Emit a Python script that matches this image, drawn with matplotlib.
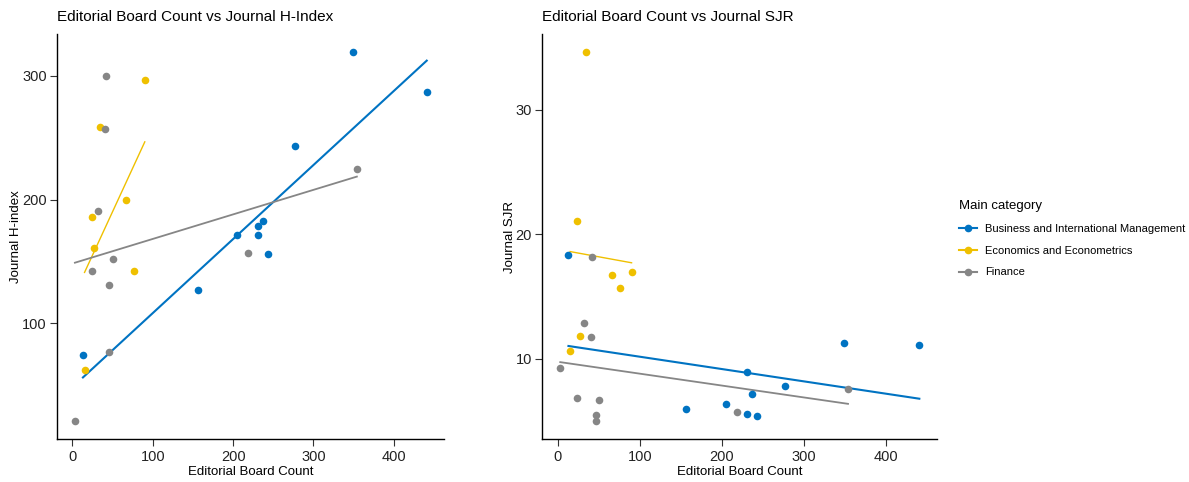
import numpy as np
import matplotlib
matplotlib.use("Agg")
import matplotlib.pyplot as plt
from matplotlib.lines import Line2D

plt.rcParams['font.family'] = ['Liberation Sans', 'DejaVu Sans']

# editorial board counts, H-index and SJR per journal, grouped by main category
bus_board = [349, 441, 277, 205, 231, 237, 231, 243, 156, 13]
bus_hindex = [319, 287, 243, 171, 179, 183, 171, 156, 127, 74]
bus_sjr = [11.23, 11.07, 7.83, 6.33, 8.96, 7.13, 5.56, 5.42, 5.98, 18.3]

eco_board = [90, 34, 66, 24, 27, 76, 15]
eco_hindex = [297, 259, 200, 186, 161, 142, 62]
eco_sjr = [16.96, 34.63, 16.75, 21.08, 11.82, 15.7, 10.59]

fin_board = [42, 40, 32, 50, 24, 46, 46, 219, 354, 3]
fin_hindex = [300, 257, 191, 152, 142, 131, 77, 157, 225, 21]
fin_sjr = [18.17, 11.74, 12.87, 6.63, 6.84, 5.5, 4.99, 5.72, 7.54, 9.25]

categories = ["Business and International Management", "Economics and Econometrics", "Finance"]
colors = ["#0073C2", "#EFC000", "#868686"]
line_w = [1.5, 1.0, 1.3]

groups = [
    (bus_board, bus_hindex, bus_sjr),
    (eco_board, eco_hindex, eco_sjr),
    (fin_board, fin_hindex, fin_sjr),
]

fig = plt.figure(figsize=(11.89, 4.82), dpi=100)
ax1 = fig.add_axes([0.0482, 0.0886, 0.3255, 0.8409])
ax2 = fig.add_axes([0.4561, 0.0886, 0.3322, 0.8409])


def expand(vals, frac=0.05):
    lo, hi = min(vals), max(vals)
    pad = (hi - lo) * frac
    return lo - pad, hi + pad


def panel(ax, idx, title, ylabel):
    allx, ally = [], []
    for (board, hidx, sjr), col, lw in zip(groups, colors, line_w):
        y = hidx if idx == 1 else sjr
        ax.scatter(board, y, s=30, color=col, zorder=3, linewidths=0)
        # linear fit per category over its own x range
        k, b = np.polyfit(board, y, 1)
        xs = np.array([min(board), max(board)])
        ax.plot(xs, k * xs + b, color=col, lw=lw, zorder=2)
        allx += board
        ally += y
    ax.set_xlim(*expand(allx))
    ax.set_ylim(*expand(ally))
    ax.set_xticks([0, 100, 200, 300, 400])
    for s in ["top", "right"]:
        ax.spines[s].set_visible(False)
    for s in ["left", "bottom"]:
        ax.spines[s].set_linewidth(1.0)
        ax.spines[s].set_color("black")
    ax.tick_params(direction="out", length=5, width=0.8, color="#333333",
                   labelsize=10.5, labelcolor="#222222", pad=2.5)
    ax.set_xlabel("Editorial Board Count", fontsize=9.5, labelpad=2)
    ax.set_ylabel(ylabel, fontsize=9.5, labelpad=0)
    ax.set_title(title, fontsize=11, loc="left", pad=9)


panel(ax1, 1, "Editorial Board Count vs Journal H-Index", "Journal H-index")
ax1.set_yticks([100, 200, 300])
panel(ax2, 2, "Editorial Board Count vs Journal SJR", "Journal SJR")
ax2.set_yticks([10, 20, 30])

handles = [Line2D([0], [0], color=c, lw=1.5, marker="o", markersize=4.5)
           for c in colors]
fig.legend(handles, categories, title="Main category", loc="upper left",
           bbox_to_anchor=(0.798, 0.605), frameon=False, fontsize=8,
           title_fontsize=9.5, handlelength=1.6, labelspacing=1.05,
           alignment="left")

fig.savefig("out.png", dpi=100)
